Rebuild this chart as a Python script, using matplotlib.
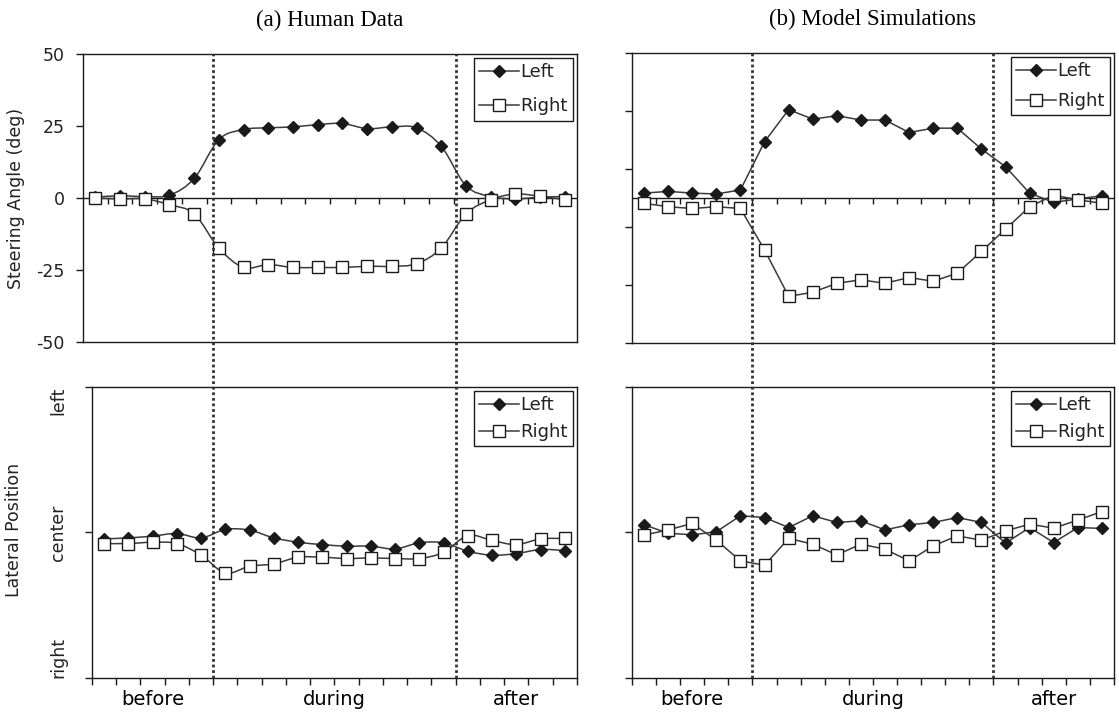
import numpy as np
import matplotlib
matplotlib.use("Agg")
import matplotlib.pyplot as plt
from matplotlib.path import Path
from matplotlib.patches import PathPatch
from matplotlib.lines import Line2D
from matplotlib.markers import TICKDOWN

plt.rcParams['font.family'] = ['DejaVu Sans']
plt.rcParams['axes.unicode_minus'] = False

# --- data ---
phase_labels = ["before", "during", "after"]
phase_centers = [2.5, 10, 17.5]
phase_bounds = [5, 15]
lateral_ticks = [-1, 0, 1]
lateral_labels = ["right", "center", "left"]

human_steer_left = [0.3, 0.8, 0.5, 1.0, 6.8, 20.3, 23.8, 24.4, 24.7, 25.5,
                    25.9, 24.1, 24.7, 24.4, 18.0, 4.3, 0.5, -0.3, 0.3, 0.5]
human_steer_right = [0.0, -0.3, -0.3, -2.3, -5.5, -17.4, -24.1, -23.1, -24.1, -24.1,
                     -24.1, -23.7, -23.7, -22.8, -17.4, -5.5, -0.6, 1.4, 0.6, -0.6]
model_steer_left = [1.7, 2.3, 1.7, 1.4, 2.8, 19.4, 30.5, 27.2, 28.4, 26.9,
                    26.9, 22.6, 24.1, 24.1, 16.9, 10.8, 1.7, -1.5, -0.3, 0.8]
model_steer_right = [-1.8, -3.0, -3.6, -3.0, -3.6, -17.9, -33.9, -32.5, -29.4, -28.2,
                     -29.4, -27.4, -28.7, -25.9, -18.4, -10.7, -3.0, 1.0, -0.6, -1.8]

human_lat_left = [-0.044, -0.037, -0.025, -0.007, -0.037, 0.021, 0.016, -0.037, -0.067, -0.083,
                  -0.094, -0.094, -0.113, -0.071, -0.071, -0.129, -0.156, -0.145, -0.117, -0.124]
human_lat_right = [-0.076, -0.076, -0.067, -0.076, -0.156, -0.278, -0.232, -0.216, -0.170, -0.170,
                   -0.179, -0.175, -0.179, -0.179, -0.136, -0.021, -0.055, -0.083, -0.044, -0.041]
model_lat_left = [0.053, -0.005, -0.016, 0.005, 0.115, 0.103, 0.034, 0.115, 0.069, 0.080,
                  0.018, 0.053, 0.069, 0.103, 0.069, -0.073, 0.034, -0.069, 0.034, 0.028]
model_lat_right = [-0.018, 0.018, 0.062, -0.053, -0.195, -0.225, -0.041, -0.080, -0.154, -0.080,
                   -0.115, -0.195, -0.092, -0.023, -0.053, 0.011, 0.057, 0.030, 0.085, 0.144]

n_bins = len(human_steer_left)
x = np.arange(n_bins) + 0.5
bin_edges = np.arange(n_bins + 1)

LINE = '#3a3a3a'
INK = '#1a1a1a'
TXT = '#222222'
FS = 12.5


def smooth_path(xs, ys):
    # Bezier segments through the points (Excel-style smoothed line)
    pts = np.column_stack([xs, ys])
    verts = [tuple(pts[0])]
    codes = [Path.MOVETO]
    n = len(pts)
    for i in range(n - 1):
        p0 = pts[max(i - 1, 0)]
        p1 = pts[i]
        p2 = pts[i + 1]
        p3 = pts[min(i + 2, n - 1)]
        c1 = p1 + (p2 - p0) / 6.0
        c2 = p2 - (p3 - p1) / 6.0
        verts += [tuple(c1), tuple(c2), tuple(p2)]
        codes += [Path.CURVE4] * 3
    return Path(verts, codes)


def draw_series(ax, ys, marker, face, ms, smooth):
    if smooth:
        ax.add_patch(PathPatch(smooth_path(x, ys), fill=False, edgecolor=LINE,
                               lw=1.1, zorder=2))
        ax.plot(x, ys, ls='none', marker=marker, mfc=face, mec=INK, mew=1.0,
                ms=ms, zorder=3)
    else:
        ax.plot(x, ys, color=LINE, lw=1.1, marker=marker, mfc=face, mec=INK,
                mew=1.0, ms=ms, zorder=3)


def add_legend(ax, spacing):
    handles = [
        Line2D([], [], color=LINE, lw=1.1, marker='D', mfc=INK, mec=INK, ms=6.3),
        Line2D([], [], color=LINE, lw=1.1, marker='s', mfc='white', mec=INK, ms=8.5),
    ]
    leg = ax.legend(handles, ["Left", "Right"], loc='upper right', fontsize=13,
                    frameon=True, fancybox=False, framealpha=1, edgecolor=INK,
                    borderaxespad=0.2, borderpad=0.3, labelspacing=spacing,
                    handlelength=2.2, handletextpad=0.1)
    leg.get_frame().set_linewidth(1.0)
    for t in leg.get_texts():
        t.set_color(TXT)


fig = plt.figure(figsize=(11.19, 7.16), dpi=100)
ax_tl = fig.add_axes([0.0742, 0.5223, 0.4415, 0.4022])
ax_tr = fig.add_axes([0.5648, 0.5209, 0.4307, 0.4050])
ax_bl = fig.add_axes([0.0822, 0.0531, 0.4334, 0.4064])
ax_br = fig.add_axes([0.5648, 0.0531, 0.4307, 0.4064])

for ax in (ax_tl, ax_tr, ax_bl, ax_br):
    ax.set_xlim(0, n_bins)
    for s in ax.spines.values():
        s.set_color(INK)
        s.set_linewidth(1.0)
    ax.tick_params(colors=INK, labelcolor=TXT, labelsize=FS, width=1.0, length=5,
                   direction='out')

# steering panels
for ax, left, right, smooth in ((ax_tl, human_steer_left, human_steer_right, True),
                                (ax_tr, model_steer_left, model_steer_right, False)):
    ax.set_ylim(-50, 50)
    ax.axhline(0, color=INK, lw=1.0, zorder=1)
    ax.plot(bin_edges[1:-1], np.zeros(n_bins - 1), ls='none', marker=TICKDOWN,
            ms=4.5, mew=1.0, color=INK, zorder=1)
    ax.set_xticks([])
    draw_series(ax, left, 'D', INK, 6.3, smooth)
    draw_series(ax, right, 's', 'white', 8.5, smooth)

ax_tl.set_yticks([-50, -25, 0, 25, 50])
ax_tl.tick_params(axis='y', pad=8)
ax_tl.set_ylabel("Steering Angle (deg)", fontsize=FS, color=TXT)
ax_tl.yaxis.set_label_coords(-0.117, 0.5)
ax_tr.set_yticks([-50, -30, -10, 10, 30, 50])
ax_tr.set_yticklabels([])

ax_tl.set_title("(a) Human Data", fontsize=16.5, family='Liberation Serif',
                color='black', pad=20)
ax_tr.set_title("(b) Model Simulations", fontsize=16.5, family='Liberation Serif',
                color='black', pad=20)

# lateral position panels
for ax, left, right, smooth in ((ax_bl, human_lat_left, human_lat_right, True),
                                (ax_br, model_lat_left, model_lat_right, False)):
    ax.set_ylim(-1, 1)
    ax.xaxis.remove_overlapping_locs = False
    ax.set_xticks(bin_edges)
    ax.set_xticklabels([])
    ax.set_xticks(phase_centers, phase_labels, minor=True)
    ax.tick_params(axis='x', which='minor', length=0, pad=9, labelsize=14)
    ax.set_yticks(lateral_ticks)
    draw_series(ax, left, 'D', INK, 6.3, smooth)
    draw_series(ax, right, 's', 'white', 8.5, smooth)

ax_bl.set_yticklabels(lateral_labels, rotation=90)
ax_bl.tick_params(axis='y', pad=13)
for lab, va in zip(ax_bl.get_yticklabels(), ['bottom', 'center', 'top']):
    lab.set_va(va)
ax_bl.set_ylabel("Lateral Position", fontsize=FS, color=TXT)
ax_bl.yaxis.set_label_coords(-0.142, 0.51)
ax_br.set_yticklabels([])

add_legend(ax_tl, 0.9)
add_legend(ax_tr, 0.65)
add_legend(ax_bl, 0.5)
add_legend(ax_br, 0.5)

# dotted phase boundaries spanning both rows of each column
for top, bot in ((ax_tl, ax_bl), (ax_tr, ax_br)):
    p_top = top.get_position()
    p_bot = bot.get_position()
    ymax = (p_top.y1 - p_bot.y0) / p_bot.height
    for b in phase_bounds:
        bot.axvline(b, ymin=0, ymax=ymax, clip_on=False, color='#333333',
                    lw=2.0, ls=(0, (1, 1)), zorder=4)

fig.savefig("out.png", dpi=100)
